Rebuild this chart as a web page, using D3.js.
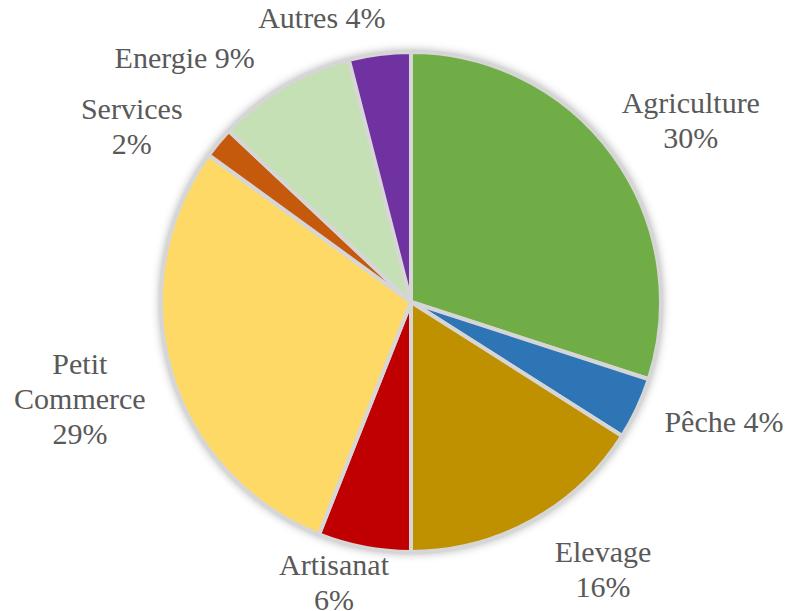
<!DOCTYPE html>
<html>
<head>
<meta charset="utf-8">
<script src="https://cdn.jsdelivr.net/npm/d3@7"></script>
<style>
  html, body { margin: 0; padding: 0; background: #fff; }
  #chart { position: relative; width: 789px; height: 611px; overflow: hidden; }
  svg { display: block; position: absolute; left: 0; top: 0; }
  .lbl {
    position: absolute;
    width: 300px;
    text-align: center;
    font-family: "Liberation Serif", "Times New Roman", Times, serif;
    font-size: 30px;
    line-height: 35px;
    color: #595959;
    white-space: nowrap;
  }
</style>
</head>
<body>
<div id="chart"></div>
<script>
// data (percent), clockwise from 12 o'clock
const categories = ["Agriculture", "Pêche", "Elevage", "Artisanat", "Petit\nCommerce", "Services", "Energie", "Autres"];
const values = [30, 4, 16, 6, 29, 2, 9, 4];
const colors = ["#70ad47", "#2e75b6", "#bf9000", "#c00000", "#ffd966", "#c55a11", "#c5e0b4", "#7030a0"];
// whether the percentage goes on its own line
const valueOnNewLine = [true, false, true, true, true, true, false, false];

// label placement: angle shift from slice middle (deg) and distance from centre
const labelShift = [2.9, -4.3, -6.9, 4.6, -0.1, -7.4, -12.2, -10.2];
const labelDist = [334, 335, 329, 290, 345, 330, 333, 298];

const width = 789, height = 611;
const cx = 411, cy = 302, radius = 250;
const lineH = 35;

const chart = d3.select("#chart");
const svg = chart.append("svg")
  .attr("width", width)
  .attr("height", height);

const defs = svg.append("defs");
const shadow = defs.append("filter").attr("id", "shadow")
  .attr("x", "-20%").attr("y", "-20%").attr("width", "140%").attr("height", "140%");
shadow.append("feGaussianBlur").attr("stdDeviation", 5);

const soft = defs.append("filter").attr("id", "soft")
  .attr("x", "-5%").attr("y", "-5%").attr("width", "110%").attr("height", "110%");
soft.append("feGaussianBlur").attr("stdDeviation", 0.7);

const g = svg.append("g").attr("transform", `translate(${cx},${cy})`);

// soft shadow behind the pie
g.append("circle")
  .attr("r", radius + 1)
  .attr("fill", "rgba(0,0,0,0.35)")
  .attr("filter", "url(#shadow)");

g.append("circle")
  .attr("r", radius)
  .attr("fill", "#d4d4d4");

const pie = d3.pie().sort(null).value(d => d);
const arcs = pie(values);
const arc = d3.arc().innerRadius(0).outerRadius(radius);

g.append("g")
  .attr("filter", "url(#soft)")
  .selectAll("path")
  .data(arcs)
  .join("path")
  .attr("d", arc)
  .attr("fill", (d, i) => colors[i])
  .attr("stroke", "#d6d6d6")
  .attr("stroke-width", 4)
  .attr("stroke-linejoin", "round");

// labels as html blocks centred on their anchor point
arcs.forEach(function(d, i) {
  const mid = (d.startAngle + d.endAngle) / 2 + labelShift[i] * Math.PI / 180;
  const lx = cx + Math.sin(mid) * labelDist[i];
  const ly = cy - Math.cos(mid) * labelDist[i];
  let lines = categories[i].split("\n");
  const pct = values[i] + "%";
  if (valueOnNewLine[i]) lines.push(pct);
  else lines[lines.length - 1] += " " + pct;
  const block = chart.append("div")
    .attr("class", "lbl")
    .style("left", (lx - 150) + "px")
    .style("top", (ly - lines.length * lineH / 2) + "px");
  lines.forEach(function(line) {
    block.append("div").text(line);
  });
});
</script>
</body>
</html>
